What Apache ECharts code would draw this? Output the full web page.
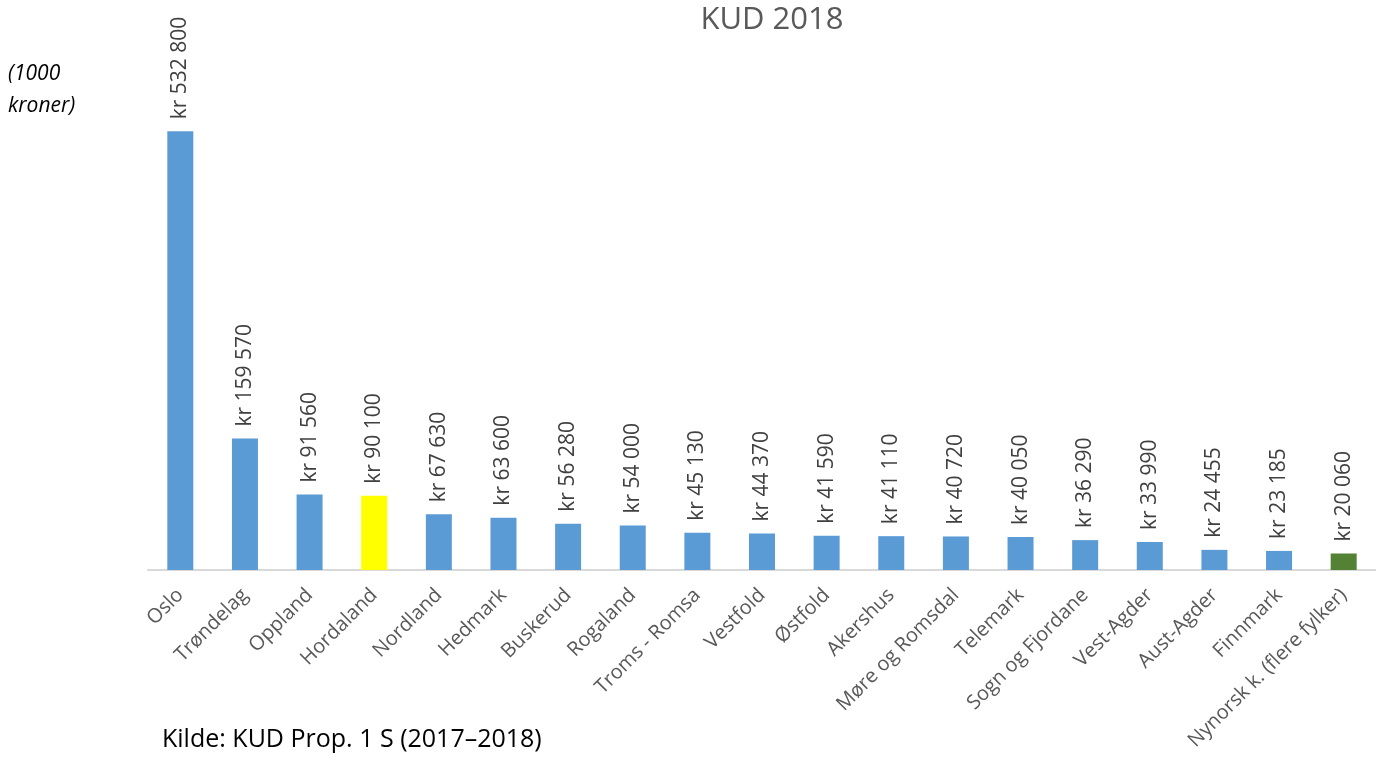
<!DOCTYPE html>
<html>
<head>
<meta charset="utf-8">
<script src="https://cdn.jsdelivr.net/npm/echarts@6/dist/echarts.min.js"></script>
<style>
  html, body { margin: 0; padding: 0; background: #fff; }
  #chart { width: 1376px; height: 762px; }
</style>
</head>
<body>
<div id="chart"></div>
<script>
// fylker, sortert etter tildeling
var regions = ['Oslo', 'Trøndelag', 'Oppland', 'Hordaland', 'Nordland', 'Hedmark', 'Buskerud',
  'Rogaland', 'Troms - Romsa', 'Vestfold', 'Østfold', 'Akershus', 'Møre og Romsdal', 'Telemark',
  'Sogn og Fjordane', 'Vest-Agder', 'Aust-Agder', 'Finnmark', 'Nynorsk k. (flere fylker)'];
var amounts = [532800, 159570, 91560, 90100, 67630, 63600, 56280, 54000, 45130, 44370,
  41590, 41110, 40720, 40050, 36290, 33990, 24455, 23185, 20060];

var blue = '#5b9bd5';
var highlight = { 'Hordaland': '#ffff00', 'Nynorsk k. (flere fylker)': '#548235' };

function formatKr(v) {
  return 'kr ' + String(v).replace(/\B(?=(\d{3})+(?!\d))/g, ' ');
}

var fontFam = '"Open Sans", "DejaVu Sans", sans-serif';
var chart = echarts.init(document.getElementById('chart'));

chart.setOption({
  backgroundColor: '#fff',
  animation: false,
  title: {
    text: 'KUD 2018',
    left: 767,
    top: 0,
    textAlign: 'center',
    textStyle: { color: '#595959', fontSize: 31, fontWeight: 'normal', fontFamily: fontFam }
  },
  grid: { left: 148, right: -9, top: 76, bottom: 192, containLabel: false },
  xAxis: {
    type: 'category',
    data: regions,
    axisLine: { lineStyle: { color: '#d9d9d9', width: 2 } },
    axisTick: { show: false },
    axisLabel: {
      interval: 0,
      rotate: 45,
      margin: 22,
      color: '#595959',
      fontSize: 20,
      fontFamily: fontFam
    }
  },
  yAxis: {
    type: 'value',
    min: 0,
    max: 600000,
    show: false,
    splitLine: { show: false }
  },
  series: [{
    type: 'bar',
    barWidth: 26,
    data: amounts.map(function (v, i) {
      return { value: v, itemStyle: { color: highlight[regions[i]] || blue } };
    }),
    label: {
      show: true,
      position: 'top',
      rotate: 90,
      align: 'left',
      verticalAlign: 'middle',
      distance: 12,
      color: '#404040',
      fontSize: 21,
      fontFamily: fontFam,
      formatter: function (p) { return formatKr(p.value); }
    }
  }],
  graphic: [
    {
      type: 'text', left: 8, top: 58,
      style: { text: '(1000\nkroner)', font: 'italic 21px ' + fontFam, fill: '#000', lineHeight: 32 }
    },
    {
      type: 'text', left: 162, top: 727,
      style: { text: 'Kilde: KUD Prop. 1 S (2017–2018)', font: '25px ' + fontFam, fill: '#000' }
    }
  ]
});
</script>
</body>
</html>
